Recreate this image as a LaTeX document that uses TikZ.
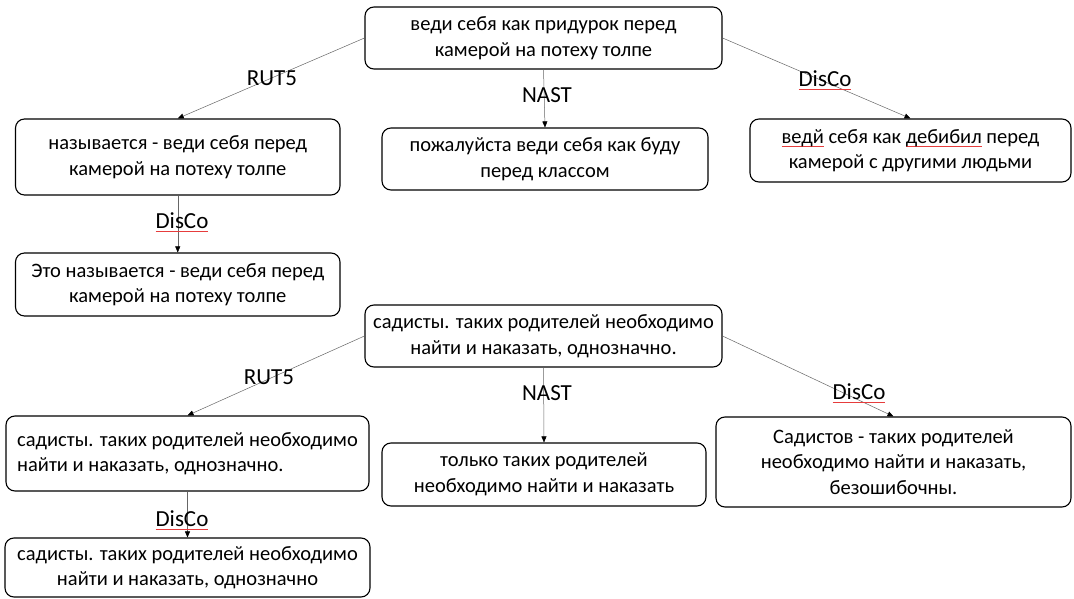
\documentclass[tikz,border=0pt]{standalone}
\usepackage{fontspec}
\setmainfont{Carlito}
\usetikzlibrary{arrows.meta}
\definecolor{spellred}{RGB}{230,60,60}
\newsavebox\spellbox
\newcommand\spellerr[1]{\sbox\spellbox{#1}\rlap{\textcolor{spellred}{\rule[-3.5pt]{\wd\spellbox}{0.7pt}}}\usebox\spellbox}
\tikzset{
  box/.style={draw=black, line width=1.1pt, rounded corners=9pt, align=center, inner sep=0pt,
    font=\fontsize{20.5}{25.5}\selectfont},
  lbl/.style={inner sep=1pt, font=\fontsize{23}{26}\selectfont},
  conn/.style={draw=gray!80!black, line width=0.5pt, -{Triangle[length=6pt,width=5pt,color=black]}}
}
\begin{document}
\begin{tikzpicture}[x=1pt,y=-1pt]
\useasboundingbox (0,0) rectangle (1074,599);
% upper group
\node[box, minimum width=357pt, minimum height=62pt] (t1) at (543.5,38) {веди себя как придурок перед\\камерой на потеху толпе};
\node[box, minimum width=324.5pt, minimum height=76pt] (a1) at (177.75,157) {называется - веди себя перед\\камерой на потеху толпе};
\node[box, minimum width=324.5pt, minimum height=63pt] (a2) at (177.75,284.5) {Это называется - веди себя перед\\камерой на потеху толпе};
\node[box, minimum width=326pt, minimum height=62pt] (b) at (545,159) {пожалуйста веди себя как буду\\перед классом};
\node[box, minimum width=321pt, minimum height=63pt] (c) at (910.5,150.5) {\spellerr{ведй} себя как \spellerr{дебибил} перед\\камерой с другими людьми};
\draw[conn] (t1.west) -- (a1.north);
\draw[conn] (t1.south) -- (b.north);
\draw[conn] (t1.east) -- (c.north);
\draw[conn] (a1.south) -- (a2.north);
\node[lbl] (l1) at (272,78) {RUT5};
\node[lbl] (l2) at (547,95) {NAST};
\node[lbl] (l3) at (825,80) {\spellerr{DisCo}};
\node[lbl] (l4) at (182,222) {\spellerr{DisCo}};
% lower group
\node[box, minimum width=357pt, minimum height=62pt] (t2) at (543.5,336) {садисты. таких родителей необходимо\\найти и наказать, однозначно.};
\node[box, minimum width=363pt, minimum height=75pt, align=left] (d1) at (187.5,453.5) {садисты. таких родителей необходимо\\найти и наказать, однозначно.};
\node[box, minimum width=365pt, minimum height=59pt] (d2) at (187.5,567.5) {садисты. таких родителей необходимо\\найти и наказать, однозначно};
\node[box, minimum width=324pt, minimum height=63pt] (e) at (544,474.5) {только таких родителей\\необходимо найти и наказать};
\node[box, minimum width=355pt, minimum height=90pt] (f) at (893.5,462) {Садистов - таких родителей\\необходимо найти и наказать,\\безошибочны.};
\draw[conn] (t2.west) -- (d1.north);
\draw[conn] (t2.south) -- (e.north);
\draw[conn] (t2.east) -- (f.north);
\draw[conn] (d1.south) -- (d2.north);
\node[lbl] (l5) at (269,377) {RUT5};
\node[lbl] (l6) at (547,393) {NAST};
\node[lbl] (l7) at (859,393) {\spellerr{DisCo}};
\node[lbl] (l8) at (182,520) {\spellerr{DisCo}};
\end{tikzpicture}
\end{document}
